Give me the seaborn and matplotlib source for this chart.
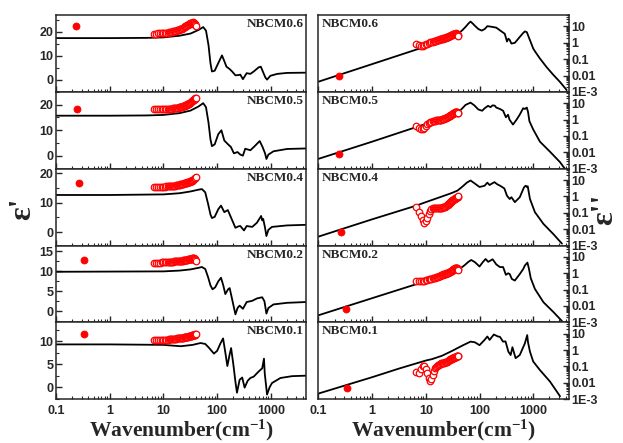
import matplotlib
matplotlib.use("Agg")
import matplotlib.pyplot as plt
import seaborn as sns
from matplotlib.ticker import MultipleLocator, LogLocator, NullFormatter, FixedLocator, FixedFormatter

# ---------------------------------------------------------------- data
samples = ["NBCM0.6", "NBCM0.5", "NBCM0.4", "NBCM0.2", "NBCM0.1"]

# THz-TDS wavenumbers (cm^-1), shared by all samples (0.2-1.2 THz)
thz_wn = [6.67, 7.33, 8.0, 8.67, 9.33, 10.0, 10.67, 11.33, 12.0, 12.67, 13.33, 14.0, 14.67,
          15.33, 16.0, 16.67, 17.33, 18.0, 18.67, 19.33, 20.0, 20.67, 21.33, 22.0, 22.67,
          23.33, 24.0, 24.67, 25.33, 26.0, 26.67, 27.33, 28.0, 28.67, 29.33, 30.0, 30.67,
          31.33, 32.0, 32.67, 33.33, 34.0, 34.67, 35.33, 36.0, 36.67, 37.33, 38.0, 38.67,
          39.33, 40.0]

# measured real permittivity (THz)
thz_eps1_06 = [19.3, 19.3, 19.4, 19.4, 19.4, 19.5, 19.6, 19.6, 19.7, 19.8,
               19.8, 20.0, 20.1, 20.2, 20.3, 20.4, 20.5, 20.6, 20.7, 20.9,
               21.0, 21.1, 21.3, 21.4, 21.6, 21.8, 22.0, 22.1, 22.3, 22.5,
               22.6, 22.8, 22.9, 23.0, 23.2, 23.3, 23.4, 23.5, 23.6, 23.7,
               23.8, 23.9, 23.9, 24.0, 23.9, 23.8, 23.6, 23.4, 23.2, 22.9, 22.5]
thz_eps1_05 = [18.3, 18.3, 18.3, 18.3, 18.3, 18.3, 18.3, 18.4, 18.4, 18.4,
               18.5, 18.5, 18.5, 18.6, 18.6, 18.7, 18.7, 18.8, 18.8, 18.9,
               18.9, 19.0, 19.1, 19.2, 19.3, 19.4, 19.5, 19.6, 19.7, 19.8,
               19.9, 20.0, 20.2, 20.3, 20.4, 20.5, 20.7, 20.8, 21.0, 21.1,
               21.3, 21.4, 21.6, 21.7, 21.9, 22.0, 22.1, 22.3, 22.4, 22.5, 22.6]
thz_eps1_04 = [15.3, 15.3, 15.3, 15.3, 15.4, 15.4, 15.4, 15.5, 15.5, 15.5,
               15.6, 15.6, 15.7, 15.7, 15.8, 15.8, 15.9, 15.9, 16.0, 16.0,
               16.1, 16.2, 16.2, 16.3, 16.3, 16.4, 16.5, 16.5, 16.6, 16.7,
               16.7, 16.8, 16.9, 16.9, 17.0, 17.1, 17.1, 17.2, 17.3, 17.3,
               17.4, 17.5, 17.6, 17.7, 17.8, 17.9, 18.0, 18.2, 18.3, 18.5, 18.7]
thz_eps1_02 = [12.2, 12.2, 12.2, 12.2, 12.3, 12.3, 12.3, 12.3, 12.3, 12.4,
               12.4, 12.4, 12.4, 12.4, 12.5, 12.5, 12.5, 12.5, 12.6, 12.6,
               12.6, 12.6, 12.7, 12.7, 12.7, 12.8, 12.8, 12.8, 12.8, 12.9,
               12.9, 12.9, 12.9, 13.0, 13.0, 13.0, 13.1, 13.1, 13.1, 13.2,
               13.2, 13.2, 13.3, 13.3, 13.3, 13.3, 13.2, 13.1, 13.0, 12.9, 12.7]
thz_eps1_01 = [10.2, 10.2, 10.2, 10.2, 10.2, 10.3, 10.3, 10.3, 10.3, 10.4,
               10.4, 10.4, 10.4, 10.5, 10.5, 10.5, 10.5, 10.6, 10.6, 10.6,
               10.7, 10.7, 10.7, 10.8, 10.8, 10.8, 10.9, 10.9, 10.9, 10.9,
               11.0, 11.0, 11.0, 11.0, 11.1, 11.1, 11.1, 11.2, 11.2, 11.2,
               11.2, 11.3, 11.3, 11.3, 11.3, 11.4, 11.4, 11.4, 11.4, 11.5, 11.5]

# measured imaginary permittivity (THz)
thz_eps2_06 = [0.80, 0.70, 0.65, 0.66, 0.72, 0.80, 0.88, 0.96, 1.05, 1.12,
               1.18, 1.25, 1.32, 1.38, 1.45, 1.52, 1.57, 1.62, 1.67, 1.73,
               1.78, 1.83, 1.89, 1.95, 2.02, 2.08, 2.15, 2.23, 2.32, 2.40,
               2.50, 2.60, 2.70, 2.80, 2.90, 3.00, 3.10, 3.20, 3.30, 3.40,
               3.50, 3.60, 3.65, 3.70, 3.75, 3.72, 3.60, 3.40, 3.15, 2.85, 2.50]
thz_eps2_05 = [0.40, 0.30, 0.25, 0.26, 0.33, 0.42, 0.52, 0.62, 0.70, 0.76,
               0.80, 0.84, 0.87, 0.89, 0.90, 0.92, 0.94, 0.96, 0.98, 1.01,
               1.05, 1.08, 1.12, 1.15, 1.20, 1.25, 1.30, 1.37, 1.43, 1.50,
               1.57, 1.64, 1.72, 1.80, 1.90, 2.00, 2.10, 2.20, 2.30, 2.43,
               2.57, 2.70, 2.83, 2.93, 3.00, 3.00, 2.95, 2.80, 2.67, 2.53, 2.40]
thz_eps2_04 = [0.22, 0.12, 0.06, 0.035, 0.025, 0.03, 0.05, 0.085, 0.13, 0.17,
               0.19, 0.21, 0.21, 0.21, 0.20, 0.20, 0.20, 0.20, 0.20, 0.20,
               0.21, 0.22, 0.22, 0.23, 0.24, 0.26, 0.27, 0.29, 0.31, 0.33,
               0.36, 0.38, 0.41, 0.44, 0.47, 0.50, 0.53, 0.57, 0.60, 0.63,
               0.67, 0.70, 0.73, 0.77, 0.80, 0.83, 0.87, 0.90, 0.93, 0.97, 1.00]
thz_eps2_02 = [0.32, 0.33, 0.34, 0.35, 0.36, 0.38, 0.40, 0.42, 0.44, 0.46,
               0.48, 0.51, 0.54, 0.57, 0.59, 0.62, 0.65, 0.68, 0.71, 0.75,
               0.80, 0.83, 0.87, 0.90, 0.93, 0.97, 1.00, 1.03, 1.07, 1.10,
               1.13, 1.17, 1.22, 1.27, 1.33, 1.40, 1.47, 1.55, 1.65, 1.75,
               1.85, 1.95, 2.05, 2.12, 2.20, 2.22, 2.20, 2.05, 1.90, 1.75, 1.60]
thz_eps2_01 = [0.045, 0.038, 0.07, 0.11, 0.10, 0.07, 0.04, 0.02, 0.013, 0.018,
               0.03, 0.05, 0.075, 0.09, 0.11, 0.12, 0.13, 0.14, 0.15, 0.155,
               0.16, 0.165, 0.17, 0.17, 0.175, 0.18, 0.19, 0.20, 0.22, 0.23,
               0.24, 0.25, 0.26, 0.27, 0.28, 0.29, 0.30, 0.31, 0.33, 0.34,
               0.35, 0.36, 0.37, 0.38, 0.39, 0.40, 0.41, 0.42, 0.43, 0.445, 0.46]

# low-frequency (microwave) points
mw_wn = [0.24, 0.245, 0.265, 0.33, 0.335]
mw_eps1 = [22.3, 18.4, 16.6, 12.9, 11.5]
mw_eps2 = [0.0095, 0.0079, 0.0071, 0.0069, 0.0045]

# infrared oscillator fits: real part
fit1_wn_06 = [0.1, 1, 5, 10, 20, 32, 45, 55, 62, 69, 75, 80, 90, 105, 123, 135, 149, 171, 190,
              219, 250, 270, 302, 355, 416, 480, 592, 650, 700, 790, 850, 980, 1320, 2000, 4500]
fit1_06 = [17.4, 17.4, 17.5, 17.7, 18.4, 19.3, 20.8, 22.0, 20.5, 14.5, 7.0, 3.5, 3.8, 7.0, 10.2,
           8.0, 5.5, 4.5, 3.5, 1.9, 2.0, 2.2, 0.3, 2.8, 2.5, 3.5, 5.2, 5.5, 3.8, 1.0, 0.1, 1.7,
           2.5, 2.9, 3.0]
fit1_wn_05 = [0.1, 1, 5, 10, 20, 32, 45, 55, 62, 69, 75, 80, 90, 105, 120, 136, 158, 180, 205,
              240, 270, 302, 333, 416, 500, 620, 700, 780, 827, 900, 1120, 2000, 4500]
fit1_05 = [15.7, 15.7, 15.8, 16.0, 16.7, 17.7, 19.3, 20.6, 19.0, 13.0, 6.5, 3.8, 4.5, 8.5, 10.0,
           6.0, 4.6, 3.5, 1.0, 1.5, 0.5, 0.1, 2.8, 2.2, 3.8, 5.8, 3.5, 1.0, -1.2, 0.5, 1.8, 2.7, 2.9]
fit1_wn_04 = [0.1, 1, 10, 20, 32, 45, 52, 60, 68, 75, 80, 90, 105, 118, 136, 158, 182, 219, 250,
              270, 316, 355, 450, 550, 660, 690, 720, 780, 827, 900, 1050, 2000, 4500]
fit1_04 = [12.6, 12.6, 12.8, 13.2, 13.8, 14.4, 14.6, 13.5, 9.5, 6.0, 4.8, 5.2, 7.8, 9.0, 6.8,
           7.5, 4.9, 1.5, 2.0, 2.1, 0.6, 2.1, 1.8, 3.2, 5.5, 4.0, 4.5, 1.5, -1.3, 0.8, 1.8, 2.3, 2.5]
fit1_wn_02 = [0.1, 10, 20, 32, 45, 52, 60, 68, 75, 82, 92, 105, 118, 130, 142, 160, 171, 190,
              219, 240, 262, 302, 355, 450, 550, 690, 760, 827, 900, 1120, 2000, 4500]
fit1_02 = [9.9, 10.0, 10.2, 10.5, 10.9, 11.1, 10.6, 8.5, 6.5, 5.5, 6.0, 7.5, 8.4, 6.5, 4.3, 5.5,
           5.8, 3.0, -0.8, 0.8, 1.4, 0.6, 2.3, 2.6, 3.2, 3.5, 2.5, -0.6, 0.8, 1.7, 2.1, 2.3]
fit1_wn_01 = [0.1, 1, 10, 21, 35, 49, 60, 70, 87, 100, 115, 129, 140, 155, 170, 182, 200, 220,
              234, 262, 293, 325, 370, 416, 480, 592, 690, 745, 770, 850, 950, 1050, 1510, 2500, 4500]
fit1_01 = [9.3, 9.3, 9.2, 8.9, 9.2, 9.6, 9.4, 8.6, 7.3, 7.9, 9.5, 10.6, 8.0, 4.6, 7.0, 8.5, 5.0,
           1.0, -1.2, 1.6, 2.1, -0.1, 1.4, 2.0, 2.3, 3.4, 4.1, 6.2, 3.0, -1.6, 0.0, 0.9, 2.0, 2.4, 2.5]

# infrared oscillator fits: imaginary part
fit2_wn_06 = [0.1, 1, 10, 20, 30, 39, 48, 55, 62, 68, 75, 82, 95, 110, 125, 140, 171, 205, 256,
              295, 325, 345, 365, 393, 455, 562, 650, 700, 760, 890, 1000, 1080, 1334, 1770, 2370,
              3160, 4200]
fit2_06 = [0.0042, 0.05, 0.6, 1.3, 2.0, 3.3, 6.0, 9.5, 15, 20, 15, 11, 7, 5.6, 7, 10.5, 9.5, 8.5,
           5, 3.6, 1.2, 1.8, 1.5, 0.9, 1.0, 2.3, 4.0, 5, 4.5, 1.2, 0.45, 0.3, 0.11, 0.033, 0.011,
           0.004, 0.0013]
fit2_wn_05 = [0.1, 1, 10, 20, 30, 39, 48, 55, 68, 80, 95, 112, 125, 144, 160, 175, 192, 205, 240,
              275, 310, 340, 362, 420, 490, 560, 650, 700, 760, 800, 850, 1000, 1334, 2050, 3160, 4200]
fit2_05 = [0.0040, 0.045, 0.55, 1.2, 1.8, 2.5, 5, 8, 11, 7.5, 4.2, 3.5, 5, 7, 5.8, 7.5, 7.2, 5.5,
           4.5, 3.5, 1.4, 2.0, 1.0, 0.5, 1.0, 2.0, 5.0, 4.5, 5.5, 3.0, 0.8, 0.25, 0.045, 0.011,
           0.0025, 0.0007]
fit2_wn_04 = [0.1, 1, 6.5, 10, 20, 30, 39, 48, 58, 68, 80, 100, 124, 140, 154, 175, 190, 215, 240,
              290, 325, 365, 393, 455, 562, 670, 700, 728, 760, 790, 870, 1075, 1550, 2370, 3430]
fit2_04 = [0.0035, 0.04, 0.27, 0.45, 1.0, 1.6, 2.3, 4, 7, 9.5, 6.5, 3.8, 4.5, 7, 5, 6.5, 7.5, 5.5,
           4.6, 3.1, 1.1, 0.7, 0.9, 0.45, 0.9, 3.5, 4.2, 4.5, 3.8, 4.2, 0.7, 0.11, 0.021, 0.005, 0.0013]
fit2_wn_02 = [0.1, 1, 10, 20, 30, 39, 52, 62, 70, 82, 100, 115, 130, 145, 160, 175, 190, 205, 240,
              275, 310, 340, 365, 400, 455, 562, 650, 700, 780, 830, 900, 1075, 1550, 2370, 3430]
fit2_02 = [0.0027, 0.03, 0.33, 0.7, 1.05, 1.5, 3, 5, 6.5, 4.8, 2.6, 4.8, 7.5, 5, 6, 7.2, 5, 3.5,
           2.4, 2.4, 0.8, 1.0, 0.9, 0.45, 0.36, 0.9, 1.8, 3, 4.5, 2.0, 0.5, 0.11, 0.017, 0.0043, 0.0012]
fit2_wn_01 = [0.1, 1, 3.2, 10, 13, 20, 31, 48, 68, 82, 100, 124, 140, 154, 185, 220, 240, 274,
              305, 345, 380, 410, 470, 562, 700, 773, 800, 870, 1000, 1334, 2050, 3160]
fit2_01 = [0.0022, 0.022, 0.075, 0.23, 0.28, 0.45, 0.9, 1.9, 3.3, 3.0, 2.0, 4.2, 6.8, 4.2, 9, 6.8,
           6.5, 3.3, 3.4, 0.8, 0.5, 1.5, 0.32, 0.5, 2.6, 8.3, 3.0, 0.8, 0.2, 0.06, 0.012, 0.0015]

thz_eps1 = [thz_eps1_06, thz_eps1_05, thz_eps1_04, thz_eps1_02, thz_eps1_01]
thz_eps2 = [thz_eps2_06, thz_eps2_05, thz_eps2_04, thz_eps2_02, thz_eps2_01]
fit1 = [(fit1_wn_06, fit1_06), (fit1_wn_05, fit1_05), (fit1_wn_04, fit1_04),
        (fit1_wn_02, fit1_02), (fit1_wn_01, fit1_01)]
fit2 = [(fit2_wn_06, fit2_06), (fit2_wn_05, fit2_05), (fit2_wn_04, fit2_04),
        (fit2_wn_02, fit2_02), (fit2_wn_01, fit2_01)]

eps1_limits = [(-5, 27), (-5, 25), (-4.5, 21.5), (-2.8, 16.5), (-2.6, 14.1)]
eps1_steps = [10, 10, 10, 5, 5]
x_ticks = [0.1, 1, 10, 100, 1000]
x_ticklabels = ["0.1", "1", "10", "100", "1000"]
eps2_ticks = [1e-3, 1e-2, 0.1, 1, 10]
eps2_ticklabels = ["1E-3", "0.01", "0.1", "1", "10"]

# ---------------------------------------------------------------- style
sns.set_style("ticks")
plt.rcParams["font.family"] = ["Liberation Sans", "DejaVu Sans"]
plt.rcParams["font.weight"] = "bold"
plt.rcParams["mathtext.fontset"] = "custom"
plt.rcParams["mathtext.rm"] = "Liberation Serif:bold"
plt.rcParams["mathtext.default"] = "rm"
plt.rcParams["axes.linewidth"] = 1.1

serif = ["Liberation Serif", "DejaVu Serif"]
RED = "#ff0000"

fig = plt.figure(figsize=(6.23, 4.43), dpi=100)
gs = fig.add_gridspec(5, 2, left=0.090, right=0.913, top=0.966, bottom=0.099,
                      hspace=0, wspace=0.048)

XLIM = (0.1, 4600)


def draw_measured(ax, wn, vals, dc_x, dc_y):
    sns.scatterplot(x=wn, y=vals, ax=ax, marker="o", s=22, facecolor="white",
                    edgecolor=RED, linewidth=0.9, zorder=3)
    sns.scatterplot(x=[dc_x], y=[dc_y], ax=ax, marker="o", s=26, color=RED,
                    edgecolor=RED, linewidth=0.5, zorder=3)


for i, name in enumerate(samples):
    axl = fig.add_subplot(gs[i, 0])
    axr = fig.add_subplot(gs[i, 1])

    # ---- real part
    wn, val = fit1[i]
    sns.lineplot(x=wn, y=val, ax=axl, color="black", lw=1.3, sort=False, estimator=None)
    draw_measured(axl, thz_wn, thz_eps1[i], mw_wn[i], mw_eps1[i])
    axl.set_xscale("log")
    axl.set_xlim(*XLIM)
    axl.set_ylim(*eps1_limits[i])
    axl.yaxis.set_major_locator(MultipleLocator(eps1_steps[i]))
    axl.yaxis.set_minor_locator(MultipleLocator(eps1_steps[i] / 2))
    axl.tick_params(which="both", direction="in", top=False, right=False, left=True, bottom=True)
    axl.tick_params(which="major", length=4, width=1)
    axl.tick_params(which="minor", length=2, width=0.8)
    axl.text(0.99, 0.96, name, transform=axl.transAxes, ha="right", va="top",
             fontsize=9.5, fontweight="bold", family=serif)

    # ---- imaginary part
    wn, val = fit2[i]
    sns.lineplot(x=wn, y=val, ax=axr, color="black", lw=1.3, sort=False, estimator=None)
    draw_measured(axr, thz_wn, thz_eps2[i], mw_wn[i], mw_eps2[i])
    axr.set_xscale("log")
    axr.set_yscale("log")
    axr.set_xlim(*XLIM)
    axr.set_ylim(1e-3, 50)
    axr.yaxis.set_major_locator(FixedLocator(eps2_ticks))
    axr.yaxis.set_major_formatter(FixedFormatter(eps2_ticklabels))
    axr.yaxis.set_minor_locator(LogLocator(base=10, subs=range(2, 10), numticks=20))
    axr.yaxis.set_minor_formatter(NullFormatter())
    axr.tick_params(which="both", direction="in", top=False, left=False, right=True, bottom=True,
                    labelleft=False, labelright=True)
    axr.tick_params(which="major", length=4, width=1)
    axr.tick_params(which="minor", length=2, width=0.8)
    axr.text(0.015, 0.96, name, transform=axr.transAxes, ha="left", va="top",
             fontsize=9.5, fontweight="bold", family=serif)

    for ax in (axl, axr):
        ax.xaxis.set_major_locator(FixedLocator(x_ticks))
        ax.xaxis.set_minor_locator(LogLocator(base=10, subs=range(2, 10), numticks=20))
        ax.xaxis.set_minor_formatter(NullFormatter())
        ax.set_xlabel("")
        ax.set_ylabel("")
        for lab in ax.get_yticklabels():
            lab.set_fontweight("bold")
        ax.tick_params(axis="y", labelsize=9, pad=2)
        if i == 4:
            ax.xaxis.set_major_formatter(FixedFormatter(x_ticklabels))
            ax.tick_params(axis="x", labelsize=9, pad=4)
            ax.set_xlabel("Wavenumber(cm$^{-1}$)", fontsize=15.5, fontweight="bold",
                          family=serif, labelpad=1)
        else:
            ax.tick_params(axis="x", labelbottom=False)

fig.text(0.036, 0.528, "ε'", rotation=90, ha="center", va="center",
         fontsize=23, fontweight="bold", family=serif)
fig.text(0.970, 0.528, "ε''", rotation=90, ha="center", va="center",
         fontsize=23, fontweight="bold", family=serif)

fig.savefig("out.png", dpi=100)
